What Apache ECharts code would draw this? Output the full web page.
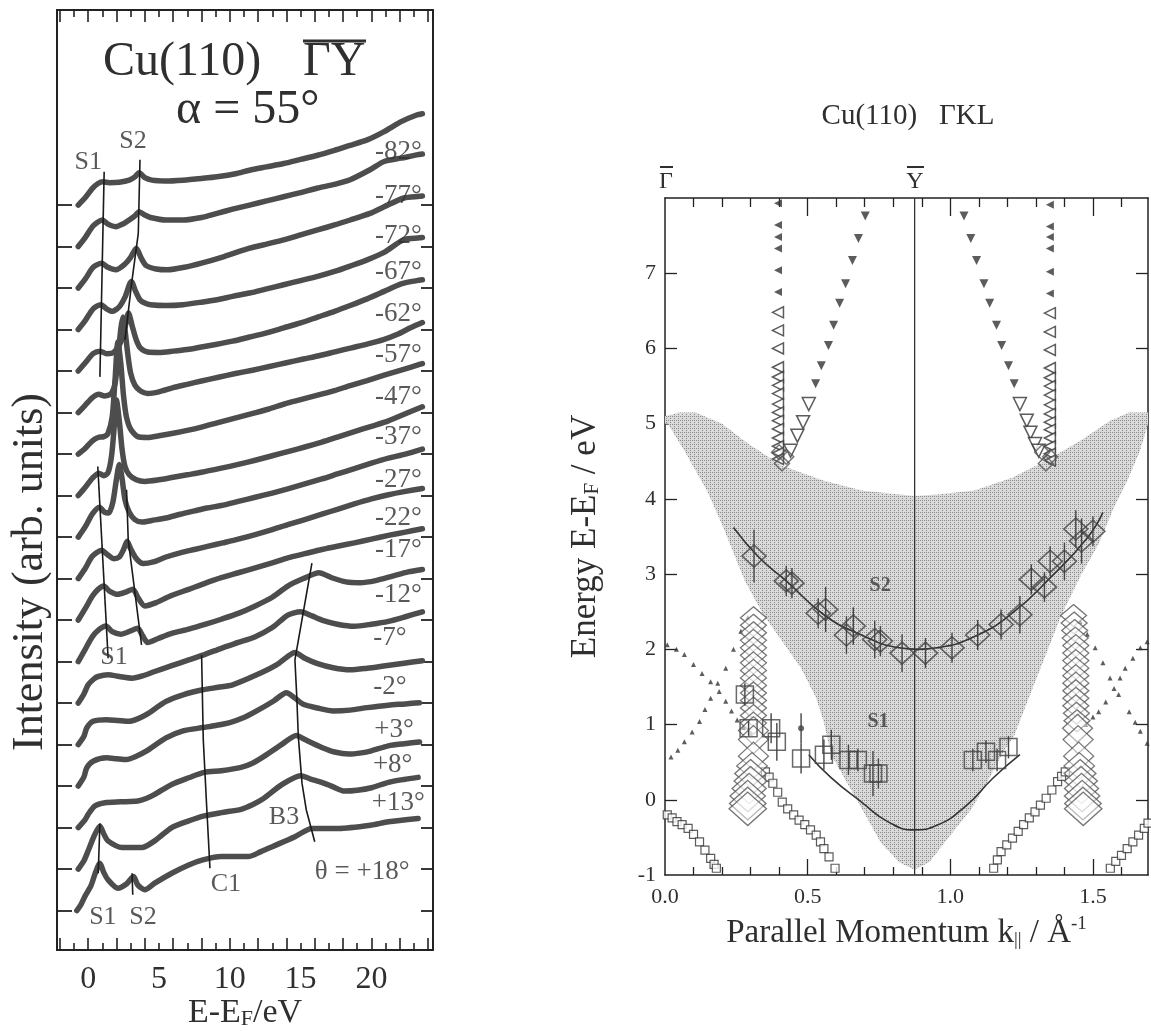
<!DOCTYPE html>
<html><head><meta charset="utf-8">
<script src="https://cdn.jsdelivr.net/npm/echarts@6/dist/echarts.min.js"></script>
<style>html,body{margin:0;padding:0;background:#fff}#c{width:1151px;height:1031px}</style>
</head><body><div id="c"></div>
<script>
const FONT = '"Liberation Serif","Times New Roman",serif';
const INK = '#2f2f2f';
const CURVE = '#4d4d4d';

// ===== Left panel: spectra, [E-EF (eV), intensity above own baseline] =====
const angleNames = ['θ = +18°','+13°','+8°','+3°','-2°','-7°','-12°','-17°','-22°','-27°','-37°','-47°','-57°','-62°','-67°','-72°','-77°','-82°'];
const spec_p18 = [[-0.8,0],[-0.5,0.15],[-0.2,0.36],[0.2,0.6],[0.5,0.9],[0.83,1.14],[1.1,0.92],[1.41,0.74],[2.1,0.54],[2.7,0.64],[3.2,0.82],[3.5,0.62],[4.0,0.5],[4.7,0.66],[5.9,0.9],[7.1,1.1],[8.1,1.22],[9.4,1.3],[11.3,1.3],[12.2,1.42],[13.0,1.54],[14.6,1.78],[15.8,1.98],[17.7,1.98],[20.0,2.06],[21.2,2.14],[23.3,2.22]];
const spec_p13 = [[-0.7,0],[-0.3,0.2],[0,0.44],[0.4,0.78],[0.83,1.04],[1.1,0.85],[1.4,0.68],[2.4,0.52],[3.8,0.52],[4.7,0.68],[5.9,1.0],[7.1,1.16],[8.2,1.28],[9.4,1.36],[10.8,1.44],[11.6,1.55],[12.3,1.68],[13.7,2.04],[15.0,2.25],[15.7,2.17],[16.5,2.09],[17.3,1.98],[18.1,1.88],[19.0,1.9],[20.0,1.96],[21.2,2.09],[22.3,2.16],[23.3,2.21]];
const spec_p8 = [[-0.7,0],[-0.2,0.2],[0,0.32],[0.47,0.52],[1.18,0.6],[2.3,0.62],[3.5,0.64],[4.1,0.7],[4.7,0.8],[5.9,1.04],[7.1,1.2],[8.2,1.33],[9.4,1.37],[10.8,1.45],[11.6,1.55],[12.3,1.69],[13.7,2.01],[14.7,2.22],[15.3,2.12],[16.5,1.93],[17.4,1.82],[18.4,1.77],[19.3,1.8],[20.0,1.85],[21.2,1.97],[22.3,2.02],[23.4,2.06]];
const spec_p3 = [[-0.7,0],[-0.3,0.22],[-0.1,0.44],[0.35,0.6],[1.3,0.68],[2.0,0.66],[2.7,0.64],[3.4,0.72],[4.1,0.84],[5.5,1.16],[6.7,1.33],[8.1,1.41],[9.0,1.46],[10.0,1.53],[11.0,1.65],[11.9,1.81],[13.1,2.05],[14.0,2.25],[14.6,2.12],[15.2,1.97],[16.2,1.88],[17.3,1.81],[18.5,1.83],[19.7,1.89],[21.2,1.95],[22.4,1.98],[23.4,2.01]];
const spec_m2 = [[-0.7,0],[-0.3,0.2],[-0.1,0.4],[0.35,0.56],[1.3,0.6],[2.1,0.58],[2.9,0.56],[3.5,0.62],[4.1,0.72],[5.5,1.04],[6.7,1.2],[8.1,1.32],[9.2,1.38],[10.2,1.44],[11.9,1.68],[13.3,1.92],[14.0,2.1],[14.6,2.22],[15.3,2.08],[16.2,1.95],[17.3,1.85],[18.5,1.8],[19.7,1.84],[21.0,1.9],[22.3,1.96],[23.6,2.02]];
const spec_m7 = [[-0.7,0],[-0.3,0.22],[0,0.44],[0.4,0.58],[0.7,0.64],[1.4,0.68],[2.2,0.64],[3.1,0.6],[3.9,0.66],[4.7,0.76],[5.9,0.9],[7.1,1.04],[8.3,1.18],[9.4,1.32],[10.6,1.46],[11.8,1.6],[13.0,1.82],[14.1,2.12],[15.0,2.2],[15.8,2.1],[16.5,2.0],[17.6,1.9],[18.8,1.85],[20.0,1.9],[21.2,1.97],[22.4,2.08],[23.6,2.2]];
const spec_m12 = [[-0.7,0],[-0.2,0.3],[0.3,0.6],[0.8,0.78],[1.25,0.86],[1.7,0.72],[2.3,0.66],[3.0,0.74],[3.5,0.8],[3.85,0.62],[4.2,0.46],[4.9,0.55],[5.9,0.68],[7.1,0.78],[8.3,0.9],[9.4,1.02],[10.6,1.16],[11.8,1.34],[13.0,1.55],[14.1,1.82],[15.2,2.0],[16.3,2.14],[17.2,2.02],[18.2,1.92],[19.2,1.9],[20.3,1.95],[21.5,2.06],[22.6,2.16],[23.6,2.22]];
const spec_m17 = [[-0.7,0],[-0.2,0.28],[0.3,0.58],[0.7,0.74],[1.1,0.82],[1.5,0.7],[2.1,0.62],[2.7,0.68],[3.15,0.74],[3.55,0.52],[4.0,0.34],[4.8,0.42],[5.8,0.58],[7.1,0.74],[8.2,0.88],[9.4,1.02],[10.6,1.14],[11.8,1.26],[13.0,1.38],[14.1,1.5],[15.3,1.6],[16.5,1.7],[17.6,1.78],[18.8,1.86],[20.0,1.95],[21.2,2.04],[22.4,2.12],[23.6,2.2]];
const spec_m22 = [[-0.7,0],[-0.2,0.25],[0.3,0.54],[0.95,0.68],[1.35,0.58],[1.8,0.48],[2.2,0.52],[2.5,0.7],[2.75,0.9],[3.0,0.72],[3.4,0.48],[3.9,0.36],[4.6,0.4],[5.5,0.52],[6.5,0.62],[7.5,0.7],[8.5,0.78],[9.5,0.86],[10.6,0.95],[11.8,1.06],[13.0,1.18],[14.1,1.3],[15.3,1.42],[16.5,1.55],[17.6,1.67],[18.8,1.8],[20.0,1.92],[21.2,2.02],[22.4,2.1],[23.6,2.17]];
const spec_m27 = [[-0.7,0],[-0.2,0.25],[0.3,0.56],[0.8,0.72],[1.15,0.6],[1.45,0.58],[1.75,0.85],[2.0,1.4],[2.2,1.75],[2.4,1.4],[2.6,0.9],[2.9,0.6],[3.3,0.42],[3.8,0.36],[4.5,0.4],[5.5,0.46],[6.5,0.55],[7.5,0.63],[8.4,0.7],[9.4,0.76],[10.6,0.86],[11.8,0.96],[13.0,1.06],[14.1,1.16],[15.3,1.28],[16.5,1.4],[17.6,1.52],[18.8,1.65],[20.0,1.78],[21.2,1.9],[22.4,2.0],[23.6,2.12]];
const spec_m37 = [[-0.7,0],[-0.2,0.2],[0.3,0.42],[0.75,0.54],[1.1,0.48],[1.4,0.55],[1.65,0.95],[1.85,1.7],[2.0,2.3],[2.2,1.8],[2.4,1.1],[2.6,0.7],[2.9,0.5],[3.4,0.38],[4.0,0.34],[5.0,0.38],[6.0,0.44],[7.0,0.5],[8.0,0.56],[9.4,0.66],[10.6,0.75],[11.8,0.85],[13.0,0.96],[14.1,1.06],[15.3,1.17],[16.5,1.29],[17.6,1.41],[18.8,1.54],[20.0,1.67],[21.2,1.8],[22.4,1.97],[23.6,2.14]];
const spec_m47 = [[-0.7,0],[-0.2,0.14],[0.3,0.32],[0.7,0.4],[1.1,0.42],[1.4,0.5],[1.7,0.9],[1.9,1.8],[2.1,2.7],[2.3,2.2],[2.5,1.4],[2.7,0.9],[3.0,0.6],[3.5,0.42],[4.2,0.4],[5.0,0.44],[6.0,0.5],[7.0,0.57],[8.0,0.65],[9.1,0.75],[10.3,0.86],[11.5,0.97],[12.7,1.08],[13.8,1.2],[15.0,1.31],[16.2,1.42],[17.4,1.53],[18.5,1.65],[19.7,1.77],[20.9,1.9],[22.1,2.02],[23.4,2.16],[23.6,2.18]];
const spec_m57 = [[-0.7,0],[-0.2,0.18],[0.3,0.36],[0.75,0.44],[1.15,0.4],[1.6,0.45],[1.9,0.7],[2.1,1.3],[2.3,2.0],[2.45,2.3],[2.6,2.0],[2.8,1.4],[3.0,0.95],[3.3,0.66],[3.7,0.52],[4.2,0.46],[5.0,0.5],[6.0,0.6],[7.0,0.68],[8.0,0.76],[9.2,0.85],[10.4,0.94],[11.6,1.02],[12.8,1.11],[14.0,1.2],[15.2,1.29],[16.3,1.37],[17.5,1.47],[18.6,1.56],[19.7,1.65],[20.8,1.75],[21.8,1.88],[22.8,2.05],[23.6,2.17]];
const spec_m62 = [[-0.7,0],[-0.2,0.2],[0.35,0.42],[0.85,0.48],[1.3,0.42],[1.8,0.45],[2.3,0.7],[2.6,1.05],[2.85,1.4],[3.1,1.1],[3.4,0.75],[3.7,0.55],[4.2,0.46],[5.0,0.45],[6.0,0.48],[7.0,0.52],[8.0,0.58],[9.0,0.64],[10.2,0.72],[11.4,0.82],[12.6,0.92],[13.8,1.04],[15.0,1.16],[16.2,1.3],[17.4,1.44],[18.5,1.58],[19.7,1.74],[20.9,1.92],[22.1,2.1],[23.2,2.18],[23.6,2.2]];
const spec_m67 = [[-0.7,0],[-0.2,0.22],[0.35,0.5],[0.9,0.6],[1.3,0.5],[1.7,0.44],[2.2,0.55],[2.6,0.78],[3.05,1.16],[3.35,0.92],[3.65,0.72],[4.0,0.64],[4.4,0.6],[5.5,0.58],[6.7,0.6],[8.0,0.66],[9.1,0.72],[10.2,0.8],[11.4,0.88],[12.6,0.98],[13.8,1.08],[15.0,1.18],[16.2,1.28],[17.4,1.4],[18.5,1.53],[19.7,1.68],[20.9,1.86],[22.3,2.17],[23.4,2.21],[23.6,2.22]];
const spec_m72 = [[-0.7,0],[-0.2,0.22],[0.35,0.5],[0.95,0.6],[1.4,0.5],[1.95,0.44],[2.6,0.58],[3.0,0.74],[3.4,0.96],[3.75,0.72],[4.1,0.54],[4.8,0.46],[5.6,0.44],[6.8,0.5],[8.0,0.6],[9.6,0.76],[11.4,0.96],[12.6,1.06],[13.8,1.16],[15.0,1.28],[16.2,1.4],[17.4,1.52],[18.5,1.64],[19.9,1.8],[20.9,1.96],[22.3,2.17],[23.4,2.21],[23.6,2.22]];
const spec_m77 = [[-0.7,0],[-0.2,0.22],[0.35,0.5],[1.0,0.64],[1.4,0.54],[1.95,0.48],[2.5,0.55],[2.9,0.64],[3.3,0.74],[3.6,0.84],[4.0,0.76],[4.4,0.7],[5.5,0.64],[6.7,0.64],[8.0,0.7],[9.1,0.8],[10.2,0.9],[11.4,1.0],[12.6,1.1],[13.8,1.2],[15.0,1.3],[16.2,1.41],[17.4,1.5],[18.5,1.61],[19.9,1.85],[20.9,2.05],[22.1,2.13],[23.2,2.21],[23.6,2.23]];
const spec_m82 = [[-0.7,0],[-0.2,0.18],[0.3,0.4],[0.7,0.52],[1.05,0.56],[1.5,0.54],[2.2,0.55],[2.9,0.6],[3.3,0.68],[3.6,0.78],[4.0,0.66],[4.5,0.6],[5.5,0.58],[6.7,0.6],[8.0,0.64],[9.1,0.68],[10.5,0.76],[11.4,0.84],[12.6,0.92],[13.8,1.0],[15.0,1.1],[16.2,1.2],[17.4,1.32],[18.5,1.44],[19.7,1.57],[20.9,1.77],[22.1,2.01],[23.2,2.17],[23.6,2.2]];
const spectra = [spec_p18,spec_p13,spec_p8,spec_p3,spec_m2,spec_m7,spec_m12,spec_m17,spec_m22,spec_m27,spec_m37,spec_m47,spec_m57,spec_m62,spec_m67,spec_m72,spec_m77,spec_m82];

const energyTickEven = [-2,0,2,4,6,8,10,12,14,16,18,20,22,24];
const energyTickOdd = [-1,1,3,5,7,9,11,13,15,17,19,21,23];
const energyLabels = [0,5,10,15,20];
const baselineTicks = [0,1,2,3,4,5,6,7,8,9,10,11,12,13,14,15,16,17];

// peak guide lines [E, stacked height]
const lineS1a = [[1.13,17.8],[0.83,12.86]];
const lineS2a = [[3.66,18.09],[3.54,16.32],[3.07,15.12],[2.6,13.75]];
const lineS1b = [[0.68,10.7],[1.41,6.08]];
const lineS2b = [[2.71,10.14],[2.83,8.93],[3.77,6.4]];
const lineC1 = [[8.01,6.16],[8.13,4.11],[8.37,2.5],[8.6,1.02]];
const lineB3 = [[15.8,8.37],[14.6,6.04],[14.73,5.16],[14.84,4.19],[15.1,3.07],[15.4,2.43],[16.0,1.66]];
const lineS1c = [[0.83,2.1],[0.71,0.9]];
const lineS2c = [[3.1,0.9],[3.15,0.38]];

// ===== Right panel: band map [k (1/Å), E-EF (eV)] =====
const bandPolygon = [[0,5.1],[0.05,5.15],[0.108,5.15],[0.2,5.0],[0.293,4.73],[0.41,4.44],[0.557,4.24],[0.69,4.11],[0.874,4.04],[0.953,4.06],[1.085,4.11],[1.217,4.28],[1.336,4.51],[1.455,4.77],[1.56,5.04],[1.627,5.15],[1.693,5.15],
  [1.693,5.0],[1.665,4.64],[1.62,4.24],[1.575,3.9],[1.52,3.4],[1.46,3.0],[1.39,2.46],[1.335,1.93],[1.28,1.4],[1.225,0.86],[1.18,0.6],[1.13,0.24],[1.075,-0.12],[1.0,-0.47],[0.926,-0.83],[0.874,-0.93],
  [0.82,-0.83],[0.755,-0.56],[0.69,-0.12],[0.636,0.24],[0.583,0.6],[0.556,1.04],[0.53,1.35],[0.477,1.75],[0.41,2.11],[0.345,2.46],[0.28,2.91],[0.2,3.66],[0.147,4.11],[0.068,4.64],[0.01,5.0],[0,5.0]];
const yBarK = 0.875;
const kTickShort = [0.1,0.2,0.3,0.4,0.6,0.7,0.8,0.9,1.1,1.2,1.3,1.4,1.6];
const kTickLong = [0.5,1.0,1.5];
const kLabels = [0,0.5,1.0,1.5];
const eTicks = [0,1,2,3,4,6,7];
const eLabels = [-1,0,1,2,3,4,5,6,7];

const triLeftColA = [[0.396,7.93],[0.396,7.64],[0.396,7.48],[0.396,7.33],[0.396,7.04],[0.396,6.75],[0.396,6.48],[0.396,6.24],[0.396,6.0],[0.396,5.75],[0.396,5.62],[0.396,5.51],[0.396,5.4],[0.396,5.26],[0.396,5.15],[0.396,5.04],[0.396,4.93],[0.396,4.81],[0.396,4.7],[0.396,4.61],[0.396,4.53]];
const triLeftColB = [[1.349,7.91],[1.349,7.62],[1.349,7.48],[1.349,7.33],[1.349,7.02],[1.349,6.73],[1.349,6.47],[1.349,6.22],[1.349,5.98],[1.349,5.74],[1.349,5.61],[1.349,5.5],[1.349,5.38],[1.349,5.25],[1.349,5.13],[1.349,5.02],[1.349,4.92],[1.349,4.81],[1.349,4.7],[1.349,4.6],[1.349,4.51]];
const triDownArmA = [[0.702,7.76],[0.678,7.46],[0.657,7.17],[0.633,6.86],[0.612,6.6],[0.591,6.31],[0.573,6.04],[0.548,5.77],[0.528,5.53],[0.504,5.26],[0.484,5.02],[0.464,4.84],[0.44,4.64]];
const triDownArmB = [[1.048,7.76],[1.072,7.46],[1.092,7.17],[1.118,6.86],[1.138,6.6],[1.162,6.31],[1.18,6.04],[1.204,5.77],[1.224,5.53],[1.244,5.26],[1.268,5.04],[1.281,4.88],[1.297,4.73],[1.31,4.64]];
const vertexDiamonds = [[0.41,4.47],[0.425,4.56],[0.4,4.62],[1.335,4.47],[1.35,4.56],[1.322,4.62]];

// S2 surface state: [k, E, error]
const s2Points = [[0.312,3.24,0.35],[0.425,2.91,0.2],[0.445,2.88,0.2],[0.537,2.48,0.2],[0.563,2.53,0.3],[0.636,2.19,0.25],[0.66,2.31,0.25],[0.735,2.13,0.25],[0.755,2.11,0.2],[0.831,1.95,0.25],[0.913,1.95,0.2],[1.006,2.02,0.2],[1.096,2.19,0.2],[1.178,2.33,0.2],[1.244,2.46,0.25],[1.284,2.93,0.2],[1.33,2.83,0.2],[1.35,3.17,0.2],[1.4,3.17,0.25],[1.44,3.6,0.25],[1.46,3.44,0.3],[1.5,3.57,0.2]];
const s2Fit = [[0.24,3.62],[0.33,3.22],[0.425,2.91],[0.557,2.46],[0.689,2.19],[0.821,2.02],[0.887,2.0],[0.953,2.02],[1.085,2.17],[1.217,2.48],[1.35,2.95],[1.48,3.48],[1.535,3.82]];
// S1 surface state: [k, E, error]
const s1Points = [[0.28,1.4,0.15],[0.293,0.95,0.1],[0.372,0.95,0.2],[0.392,0.77,0.25],[0.477,0.55,0.2],[0.557,0.6,0.2],[0.583,0.73,0.2],[0.643,0.53,0.2],[0.676,0.53,0.15],[0.729,0.35,0.3],[0.748,0.35,0.2],[1.079,0.53,0.15],[1.125,0.64,0.15],[1.164,0.53,0.15],[1.204,0.7,0.15]];
const s1Dot = [[0.477,0.95,0.2]];
const s1Fit = [[0.504,0.6],[0.583,0.29],[0.689,-0.03],[0.781,-0.29],[0.874,-0.4],[0.953,-0.34],[1.058,-0.07],[1.15,0.29],[1.244,0.6]];

// stacked hollow diamonds (bulk transitions)
const chainA = [[0.31,2.42],[0.31,2.32],[0.31,2.22],[0.31,2.12],[0.31,2.02],[0.31,1.92],[0.31,1.82],[0.31,1.72],[0.31,1.62],[0.31,1.52],[0.31,1.42],[0.31,1.32],[0.31,1.22],[0.31,1.12],[0.31,1.02],[0.31,0.92],[0.31,0.8],[0.31,0.58],[0.305,0.45],[0.3,0.35],[0.3,0.25],[0.295,0.15],[0.29,0.05],[0.29,-0.05],[0.29,-0.12]];
const chainB = [[1.432,2.45],[1.434,2.35],[1.436,2.25],[1.438,2.15],[1.44,2.05],[1.44,1.95],[1.44,1.85],[1.44,1.75],[1.44,1.65],[1.44,1.55],[1.44,1.45],[1.44,1.35],[1.44,1.25],[1.442,1.15],[1.444,1.05],[1.446,0.95],[1.448,0.8],[1.45,0.58],[1.452,0.45],[1.455,0.35],[1.458,0.25],[1.46,0.15],[1.462,0.05],[1.465,-0.05],[1.466,-0.12]];

// dotted bulk bands
const dotsA1 = [[0.008,2.06],[0.04,2.0],[0.068,1.93],[0.1,1.8],[0.13,1.68],[0.16,1.57],[0.19,1.44],[0.213,1.31],[0.233,1.18],[0.253,1.06],[0.275,0.96],[0.3,0.88]];
const dotsA2 = [[0.021,0.57],[0.045,0.66],[0.068,0.77],[0.095,0.9],[0.121,1.04],[0.14,1.2],[0.16,1.35],[0.185,1.55],[0.213,1.75],[0.24,2.0],[0.266,2.24],[0.29,2.42]];
const dotsB1 = [[1.475,1.0],[1.5,1.1],[1.52,1.17],[1.545,1.3],[1.574,1.48],[1.595,1.62],[1.613,1.75],[1.64,1.88],[1.666,2.02],[1.69,2.1]];
const dotsB2 = [[1.455,2.37],[1.48,2.2],[1.508,2.02],[1.535,1.82],[1.56,1.62],[1.59,1.4],[1.627,1.17],[1.648,1.03],[1.666,0.91],[1.69,0.75]];
// small squares bulk bands
const sqA1 = [[0.008,-0.2],[0.025,-0.24],[0.042,-0.29],[0.06,-0.33],[0.081,-0.38],[0.1,-0.46],[0.121,-0.56],[0.14,-0.67],[0.16,-0.78],[0.172,-0.86],[0.18,-0.91]];
const sqA2 = [[0.352,0.37],[0.365,0.3],[0.378,0.22],[0.395,0.1],[0.411,-0.03],[0.43,-0.12],[0.451,-0.2],[0.47,-0.27],[0.49,-0.33],[0.51,-0.4],[0.53,-0.47],[0.545,-0.56],[0.557,-0.65],[0.575,-0.76],[0.596,-0.91]];
const sqB1 = [[1.152,-0.91],[1.165,-0.8],[1.178,-0.69],[1.198,-0.6],[1.218,-0.51],[1.238,-0.42],[1.257,-0.33],[1.277,-0.24],[1.297,-0.16],[1.316,-0.07],[1.336,0.02],[1.356,0.13],[1.376,0.24],[1.39,0.31],[1.403,0.37]];
const sqB2 = [[1.561,-0.91],[1.58,-0.82],[1.6,-0.74],[1.62,-0.65],[1.64,-0.56],[1.66,-0.47],[1.68,-0.38],[1.693,-0.31]];

// ---------- annotation layout ----------
const angleLabelAt = [[19.35,0.94],[21.9,2.6],[21.5,3.51],[21.6,4.35],[21.3,5.39],[21.3,6.57],[21.9,7.61],[21.9,8.69],[21.9,9.46],[21.9,10.38],[21.9,11.41],[21.9,12.38],[21.9,13.39],[21.9,14.38],[21.9,15.4],[21.9,16.26],[21.9,17.22],[21.9,18.28]];
const leftTags = [['S1',0.0,18.04],['S2',3.16,18.55],['S1',1.82,6.11],['C1',9.73,0.64],['B3',13.83,2.26],['S1',1.04,-0.15],['S2',3.87,-0.15]];
const rightTags = [['S2',0.754,2.84],['S1',0.747,1.04]];

// stipple pattern for the bulk band projection
const pc = document.createElement('canvas'); pc.width = 4; pc.height = 4;
const g = pc.getContext('2d');
g.fillStyle = '#dadada'; g.fillRect(0,0,4,4);
g.fillStyle = '#8a8a8a'; g.fillRect(0,0,1,1); g.fillRect(2,2,1,1); g.fillRect(2,0,1,1);

const chart = echarts.init(document.getElementById('c'), null, {renderer:'canvas'});
const axisCommon = {type:'value', splitLine:{show:false}, nameMoveOverlap:false, axisLine:{show:true, onZero:false, lineStyle:{color:'#222', width:2}}};
function tickOnly(extra){
  return Object.assign({}, axisCommon, {axisLabel:{show:false}}, extra);
}
const series = [];
spectra.forEach((sp, i) => {
  series.push({type:'line', xAxisIndex:0, yAxisIndex:0, name:angleNames[i], showSymbol:false, smooth:0.25,
    lineStyle:{color:CURVE, width:5.5, cap:'round', join:'round'}, data: sp.map(p => [p[0], i + p[1]]), z:2, silent:true});
});
[lineS1a,lineS2a,lineS1b,lineS2b,lineC1,lineB3,lineS1c,lineS2c].forEach(l => {
  series.push({type:'line', xAxisIndex:0, yAxisIndex:0, showSymbol:false, lineStyle:{color:'#1a1a1a', width:1.6}, data:l, z:3, silent:true});
});
series.push({type:'scatter', xAxisIndex:0, yAxisIndex:0, symbolSize:0, z:4, silent:true,
  data: angleNames.map((n,i) => ({name:n, value:angleLabelAt[i]})),
  label:{show:true, position:'inside', formatter:p => p.name, fontFamily:FONT, fontSize:27, color:INK}});
series.push({type:'scatter', xAxisIndex:0, yAxisIndex:0, symbolSize:0, z:4, silent:true,
  data: leftTags.map(t => ({name:t[0], value:[t[1], t[2]]})),
  label:{show:true, position:'inside', formatter:p => p.name, fontFamily:FONT, fontSize:26, color:INK}});

const R = {xAxisIndex:4, yAxisIndex:2};
series.push(Object.assign({type:'custom', z:1, silent:true, data:[[0,0]],
  renderItem:(params, api) => ({type:'polygon', shape:{points: bandPolygon.map(p => api.coord(p))},
    style:{fill:{type:'pattern', image:pc, repeat:'repeat'}, stroke:null}})}, R));
series.push(Object.assign({type:'line', showSymbol:false, z:2, silent:true, lineStyle:{color:'#333', width:1.3},
  data:[[yBarK,-1],[yBarK,8]]}, R));
[dotsA1,dotsA2,dotsB1,dotsB2].forEach(d => series.push(Object.assign({type:'scatter', symbol:'triangle', symbolSize:5, z:3, silent:true,
  itemStyle:{color:'#333'}, data:d}, R)));
[sqA1,sqA2,sqB1,sqB2].forEach(d => series.push(Object.assign({type:'scatter', symbol:'rect', symbolSize:8, z:3, silent:true,
  itemStyle:{color:'#fff', borderColor:'#333', borderWidth:1.2}, data:d}, R)));
[chainA, chainB].forEach(d => series.push(Object.assign({type:'scatter', symbol:'diamond', z:3, silent:true,
  symbolSize: v => v[1] > 0.95 ? [26,22] : (v[1] > 0.5 ? [30,28] : [30 + (0.5 - v[1]) * 12, 26 + (0.5 - v[1]) * 12]),
  itemStyle:{color:'rgba(255,255,255,0.6)', borderColor:'#555', borderWidth:1.3}, data:d}, R)));
[triLeftColA, triLeftColB].forEach(d => {
  series.push(Object.assign({type:'scatter', symbol:'triangle', symbolRotate:90, symbolSize:8, z:4, silent:true,
    itemStyle:{color:'#333'}, data:d.filter(p => p[1] > 6.6)}, R));
  series.push(Object.assign({type:'scatter', symbol:'triangle', symbolRotate:90, symbolSize:11, z:4, silent:true,
    itemStyle:{color:'#fff', borderColor:'#333', borderWidth:1.5}, data:d.filter(p => p[1] <= 6.6)}, R));
});
[triDownArmA, triDownArmB].forEach(d => {
  series.push(Object.assign({type:'scatter', symbol:'triangle', symbolRotate:180, symbolSize:9, z:4, silent:true,
    itemStyle:{color:'#333'}, data:d.filter(p => p[1] > 5.4)}, R));
  series.push(Object.assign({type:'scatter', symbol:'triangle', symbolRotate:180, symbolSize:13, z:4, silent:true,
    itemStyle:{color:'#fff', borderColor:'#333', borderWidth:1.5}, data:d.filter(p => p[1] <= 5.4)}, R));
});
series.push(Object.assign({type:'scatter', symbol:'diamond', symbolSize:15, z:4, silent:true,
  itemStyle:{color:'rgba(0,0,0,0)', borderColor:'#555', borderWidth:1.5}, data:vertexDiamonds}, R));
[s2Fit, s1Fit].forEach(d => series.push(Object.assign({type:'line', showSymbol:false, smooth:true, z:5, silent:true,
  lineStyle:{color:'#333', width:1.6}, data:d}, R)));
function errBars(d){
  return Object.assign({type:'custom', z:6, silent:true, data:d,
    renderItem:(params, api) => {
      const x = api.value(0), y = api.value(1), e = api.value(2);
      const a = api.coord([x, y - e]), b = api.coord([x, y + e]);
      return {type:'line', shape:{x1:a[0], y1:a[1], x2:b[0], y2:b[1]}, style:{stroke:'#444', lineWidth:1.4}};
    }}, R);
}
series.push(errBars(s2Points), errBars(s1Points), errBars(s1Dot));
series.push(Object.assign({type:'scatter', symbol:'diamond', symbolSize:[24,22], z:7, silent:true,
  itemStyle:{color:'rgba(0,0,0,0)', borderColor:'#444', borderWidth:1.6}, data:s2Points.map(p => [p[0], p[1]])}, R));
series.push(Object.assign({type:'scatter', symbol:'rect', symbolSize:17, z:7, silent:true,
  itemStyle:{color:'rgba(0,0,0,0)', borderColor:'#444', borderWidth:1.5}, data:s1Points.map(p => [p[0], p[1]])}, R));
series.push(Object.assign({type:'scatter', symbol:'circle', symbolSize:6, z:7, silent:true,
  itemStyle:{color:'#444'}, data:s1Dot.map(p => [p[0], p[1]])}, R));
series.push(Object.assign({type:'scatter', symbolSize:0, z:8, silent:true,
  data:rightTags.map(t => ({name:t[0], value:[t[1], t[2]]})),
  label:{show:true, position:'inside', formatter:p => p.name, fontFamily:FONT, fontSize:20, fontWeight:'bold', color:'#3a3a3a'}}, R));

const option = {
  backgroundColor:'#ffffff',
  animation:false,
  grid:[
    {left:57, top:10, width:376, height:940, outerBoundsMode:'none', containLabel:false},
    {left:665, top:198, width:483, height:677, outerBoundsMode:'none', containLabel:false}
  ],
  xAxis:[
    Object.assign({}, axisCommon, {gridIndex:0, position:'bottom', min:-2.2, max:24.35,
      axisTick:{show:true, inside:true, length:12, customValues:energyTickEven, lineStyle:{color:'#222', width:1.6}},
      axisLabel:{show:true, customValues:energyLabels, fontFamily:FONT, fontSize:32, color:INK, margin:14},
      name:'{m|E-E}{s|F}{m|/eV}', nameLocation:'middle', nameGap:46,
      nameTextStyle:{rich:{m:{fontFamily:FONT, fontSize:34, color:INK}, s:{fontFamily:FONT, fontSize:22, color:INK, padding:[12,0,0,0]}}}}),
    tickOnly({gridIndex:0, position:'bottom', min:-2.2, max:24.35, axisTick:{show:true, inside:true, length:7, customValues:energyTickOdd, lineStyle:{color:'#222', width:1.6}}}),
    tickOnly({gridIndex:0, position:'top', min:-2.2, max:24.35, axisTick:{show:true, inside:true, length:12, customValues:energyTickEven, lineStyle:{color:'#222', width:1.6}}}),
    tickOnly({gridIndex:0, position:'top', min:-2.2, max:24.35, axisTick:{show:true, inside:true, length:7, customValues:energyTickOdd, lineStyle:{color:'#222', width:1.6}}}),
    Object.assign({}, axisCommon, {gridIndex:1, position:'bottom', min:0, max:1.693,
      axisLine:{show:true, onZero:false, lineStyle:{color:'#222', width:1.5}},
      axisTick:{show:true, inside:true, length:8, customValues:kTickShort, lineStyle:{color:'#222', width:1.3}},
      axisLabel:{show:true, customValues:kLabels, formatter:v => Number(v).toFixed(1), fontFamily:FONT, fontSize:22, color:INK, margin:11},
      name:'{m|Parallel Momentum k}{s|||}{m| / Å}{p|-1}', nameLocation:'middle', nameGap:40,
      nameTextStyle:{rich:{m:{fontFamily:FONT, fontSize:33, color:INK}, s:{fontFamily:FONT, fontSize:19, color:INK, padding:[14,0,0,0]}, p:{fontFamily:FONT, fontSize:19, color:INK, padding:[0,0,18,0]}}}}),
    tickOnly({gridIndex:1, position:'bottom', min:0, max:1.693, axisLine:{show:false, onZero:false}, axisTick:{show:true, inside:true, length:16, customValues:kTickLong, lineStyle:{color:'#222', width:1.3}}}),
    tickOnly({gridIndex:1, position:'top', min:0, max:1.693, axisLine:{show:true, onZero:false, lineStyle:{color:'#222', width:1.5}}, axisTick:{show:true, inside:true, length:9, customValues:kTickShort, lineStyle:{color:'#222', width:1.3}}}),
    tickOnly({gridIndex:1, position:'top', min:0, max:1.693, axisLine:{show:false, onZero:false}, axisTick:{show:true, inside:true, length:18, customValues:kTickLong, lineStyle:{color:'#222', width:1.3}}})
  ],
  yAxis:[
    tickOnly({gridIndex:0, position:'left', min:-0.95, max:21.7, axisTick:{show:true, inside:true, length:15, customValues:baselineTicks, lineStyle:{color:'#222', width:1.8}}}),
    tickOnly({gridIndex:0, position:'right', min:-0.95, max:21.7, axisTick:{show:true, inside:true, length:12, customValues:baselineTicks, lineStyle:{color:'#222', width:1.8}}}),
    Object.assign({}, axisCommon, {gridIndex:1, position:'left', min:-1, max:8,
      axisLine:{show:true, onZero:false, lineStyle:{color:'#222', width:1.5}},
      axisTick:{show:true, inside:true, length:12, customValues:eTicks, lineStyle:{color:'#222', width:1.3}},
      axisLabel:{show:true, customValues:eLabels, fontFamily:FONT, fontSize:22, color:INK, margin:9},
      name:'{m|Energy E-E}{s|F}{m| / eV}', nameLocation:'middle', nameGap:62, nameRotate:90,
      nameTextStyle:{rich:{m:{fontFamily:FONT, fontSize:35, color:INK}, s:{fontFamily:FONT, fontSize:21, color:INK, padding:[14,0,0,0]}}}}),
    tickOnly({gridIndex:1, position:'right', min:-1, max:8, axisLine:{show:true, onZero:false, lineStyle:{color:'#222', width:1.5}}, axisTick:{show:true, inside:true, length:12, customValues:eTicks, lineStyle:{color:'#222', width:1.3}}}),
    tickOnly({gridIndex:1, position:'left', min:-1, max:8, axisLine:{show:false, onZero:false}, axisTick:{show:true, inside:true, length:28, customValues:[5], lineStyle:{color:'#444', width:2.5}}}),
    tickOnly({gridIndex:1, position:'right', min:-1, max:8, axisLine:{show:false, onZero:false}, axisTick:{show:true, inside:true, length:28, customValues:[5], lineStyle:{color:'#444', width:2.5}}})
  ],
  graphic:[
    {type:'text', left:103, top:38, style:{text:'Cu(110)', fontFamily:FONT, fontSize:48, fill:INK}},
    {type:'text', left:303, top:38, style:{text:'ΓY', fontFamily:FONT, fontSize:48, fill:INK}},
    {type:'line', shape:{x1:303, y1:41, x2:366, y2:41}, style:{stroke:INK, lineWidth:3}},
    {type:'text', left:176, top:86, style:{text:'α = 55°', fontFamily:FONT, fontSize:48, fill:INK}},
    {type:'text', x:30, y:572, rotation:Math.PI/2, style:{text:'Intensity (arb. units)', fontFamily:FONT, fontSize:44, fill:INK, align:'center', verticalAlign:'middle', textAlign:'center', textVerticalAlign:'middle'}},
    {type:'text', x:908, y:116, style:{text:'Cu(110)   ΓKL', fontFamily:FONT, fontSize:29, fill:INK, align:'center', verticalAlign:'middle', textAlign:'center', textVerticalAlign:'middle'}},
    {type:'text', x:666, y:182, style:{text:'Γ', fontFamily:FONT, fontSize:24, fill:INK, align:'center', verticalAlign:'middle', textAlign:'center', textVerticalAlign:'middle'}},
    {type:'line', shape:{x1:660, y1:167, x2:673, y2:167}, style:{stroke:INK, lineWidth:2}},
    {type:'text', x:915, y:182, style:{text:'Y', fontFamily:FONT, fontSize:24, fill:INK, align:'center', verticalAlign:'middle', textAlign:'center', textVerticalAlign:'middle'}},
    {type:'line', shape:{x1:907, y1:167, x2:924, y2:167}, style:{stroke:INK, lineWidth:2}}
  ],
  series: series
};
chart.setOption(option);
</script></body></html>
